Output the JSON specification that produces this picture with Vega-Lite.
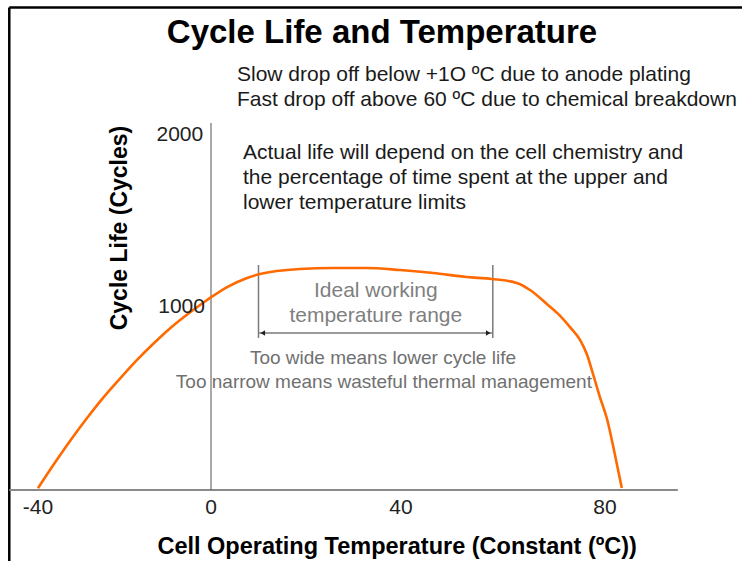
{
  "$schema": "https://vega.github.io/schema/vega-lite/v6.json",
  "width": 742,
  "height": 561,
  "autosize": "none",
  "padding": 0,
  "background": "white",
  "config": {"view": {"stroke": null}},
  "datasets": {
    "curve": [
      {"x": -40, "y": 10}, {"x": -36.5, "y": 135}, {"x": -32.6, "y": 268}, {"x": -28.7, "y": 392},
      {"x": -25.0, "y": 502}, {"x": -21.0, "y": 610}, {"x": -17.1, "y": 711}, {"x": -13.4, "y": 798},
      {"x": -9.5, "y": 883}, {"x": -5.5, "y": 959}, {"x": -1.8, "y": 1025}, {"x": 0.2, "y": 1060},
      {"x": 3.4, "y": 1116}, {"x": 7.6, "y": 1169}, {"x": 10.3, "y": 1192}, {"x": 18.7, "y": 1221},
      {"x": 25.7, "y": 1227}, {"x": 32.8, "y": 1227}, {"x": 39.8, "y": 1215}, {"x": 46.3, "y": 1198},
      {"x": 52.9, "y": 1174}, {"x": 57.8, "y": 1163}, {"x": 62.7, "y": 1140}, {"x": 65.3, "y": 1099},
      {"x": 68.8, "y": 1012}, {"x": 71.2, "y": 951}, {"x": 73.1, "y": 891}, {"x": 75.1, "y": 820},
      {"x": 76.5, "y": 738}, {"x": 77.6, "y": 639}, {"x": 79.0, "y": 508}, {"x": 80.4, "y": 388},
      {"x": 81.8, "y": 213}, {"x": 83.3, "y": 11}
    ],
    "frame": [
      {"x": -46.65, "y": 2741, "x2": 106.9, "y2": 2741},
      {"x": -46.65, "y": 2741, "x2": -46.65, "y2": -388}
    ],
    "xaxis": [{"x": -46.65, "y": 0, "x2": 94.3, "y2": 0}],
    "yaxis": [{"x": 0, "y": 2070, "x2": 0, "y2": 0}],
    "bracket": [
      {"x": 10, "y": 1244, "x2": 10, "y2": 831},
      {"x": 58, "y": 1244, "x2": 58, "y2": 831},
      {"x": 10, "y": 858, "x2": 58, "y2": 858}
    ],
    "arrows": [
      {"x": 10.9, "y": 858, "dir": "left"},
      {"x": 57.1, "y": 858, "dir": "right"}
    ],
    "title": [{"x": 36.0, "y": 2593, "t": "Cycle Life and Temperature"}],
    "notes": [
      {"x": 5.47, "y": 2349, "t": "Slow drop off below +1O ºC due to anode plating"},
      {"x": 5.47, "y": 2203, "t": "Fast drop off above 60 ºC due to chemical breakdown"},
      {"x": 6.74, "y": 1895, "t": "Actual life will depend on the cell chemistry and"},
      {"x": 6.74, "y": 1750, "t": "the percentage of time spent at the upper and"},
      {"x": 6.74, "y": 1605, "t": "lower temperature limits"}
    ],
    "ideal": [
      {"x": 34.7, "y": 1093, "t": "Ideal working"},
      {"x": 34.7, "y": 951, "t": "temperature range"}
    ],
    "toowide": [
      {"x": 36.2, "y": 721, "t": "Too wide means lower cycle life"},
      {"x": 36.4, "y": 590, "t": "Too narrow means wasteful thermal management"}
    ],
    "ylabels": [
      {"x": -1.8, "y": 2000, "t": "2000"},
      {"x": -1.4, "y": 1000, "t": "1000"}
    ],
    "xlabels": [
      {"x": -40, "y": -98, "t": "-40"},
      {"x": 0, "y": -98, "t": "0"},
      {"x": 40, "y": -98, "t": "40"},
      {"x": 80, "y": -98, "t": "80"}
    ],
    "xtitle": [{"x": 39.2, "y": -311, "t": "Cell Operating Temperature (Constant (ºC))"}],
    "ytitle": [{"x": -21.0, "y": 1459, "t": "Cycle Life (Cycles)"}]
  },
  "encoding": {
    "x": {"field": "x", "type": "quantitative", "axis": null,
      "scale": {"type": "linear", "domain": [-48.8, -40, 0, 40, 80, 106.9], "range": [0, 38, 211, 401, 605, 742], "nice": false, "zero": false}},
    "y": {"field": "y", "type": "quantitative", "axis": null,
      "scale": {"type": "linear", "domain": [-388, 0, 1000, 2000, 2785], "range": [561, 490, 307, 135, 0], "nice": false, "zero": false}}
  },
  "layer": [
    {"data": {"name": "frame"}, "mark": {"type": "rule", "color": "black", "strokeWidth": 2.5},
      "encoding": {"x2": {"field": "x2"}, "y2": {"field": "y2"}}},
    {"data": {"name": "xaxis"}, "mark": {"type": "rule", "color": "#8a8a8a", "strokeWidth": 2},
      "encoding": {"x2": {"field": "x2"}, "y2": {"field": "y2"}}},
    {"data": {"name": "yaxis"}, "mark": {"type": "rule", "color": "#555555", "strokeWidth": 1},
      "encoding": {"x2": {"field": "x2"}, "y2": {"field": "y2"}}},
    {"data": {"name": "bracket"}, "mark": {"type": "rule", "color": "#7a7a7a", "strokeWidth": 1.5},
      "encoding": {"x2": {"field": "x2"}, "y2": {"field": "y2"}}},
    {"data": {"name": "arrows"}, "mark": {"type": "point", "filled": true, "color": "#222222", "size": 28, "opacity": 1},
      "encoding": {"shape": {"field": "dir", "type": "nominal", "legend": null,
        "scale": {"domain": ["left", "right"], "range": ["triangle-left", "triangle-right"]}}}},
    {"data": {"name": "curve"}, "mark": {"type": "line", "color": "#ff6a00", "strokeWidth": 2.6, "interpolate": "monotone"}},
    {"data": {"name": "title"}, "mark": {"type": "text", "font": "Liberation Sans", "fontSize": 33, "fontWeight": "bold", "align": "center", "baseline": "middle", "color": "#000000"},
      "encoding": {"text": {"field": "t"}}},
    {"data": {"name": "notes"}, "mark": {"type": "text", "font": "Liberation Sans", "fontSize": 21, "align": "left", "baseline": "middle", "color": "#1a1a1a"},
      "encoding": {"text": {"field": "t"}}},
    {"data": {"name": "ideal"}, "mark": {"type": "text", "font": "Liberation Sans", "fontSize": 21, "align": "center", "baseline": "middle", "color": "#7f7f7f"},
      "encoding": {"text": {"field": "t"}}},
    {"data": {"name": "toowide"}, "mark": {"type": "text", "font": "Liberation Sans", "fontSize": 19, "align": "center", "baseline": "middle", "color": "#707070"},
      "encoding": {"text": {"field": "t"}}},
    {"data": {"name": "ylabels"}, "mark": {"type": "text", "font": "Liberation Sans", "fontSize": 21, "align": "right", "baseline": "middle", "color": "#222222"},
      "encoding": {"text": {"field": "t"}}},
    {"data": {"name": "xlabels"}, "mark": {"type": "text", "font": "Liberation Sans", "fontSize": 21, "align": "center", "baseline": "middle", "color": "#222222"},
      "encoding": {"text": {"field": "t"}}},
    {"data": {"name": "xtitle"}, "mark": {"type": "text", "font": "Liberation Sans", "fontSize": 23.5, "fontWeight": "bold", "align": "center", "baseline": "middle", "color": "#000000"},
      "encoding": {"text": {"field": "t"}}},
    {"data": {"name": "ytitle"}, "mark": {"type": "text", "font": "Liberation Sans", "fontSize": 23, "fontWeight": "bold", "align": "center", "baseline": "middle", "angle": 270, "color": "#000000"},
      "encoding": {"text": {"field": "t"}}}
  ]
}
